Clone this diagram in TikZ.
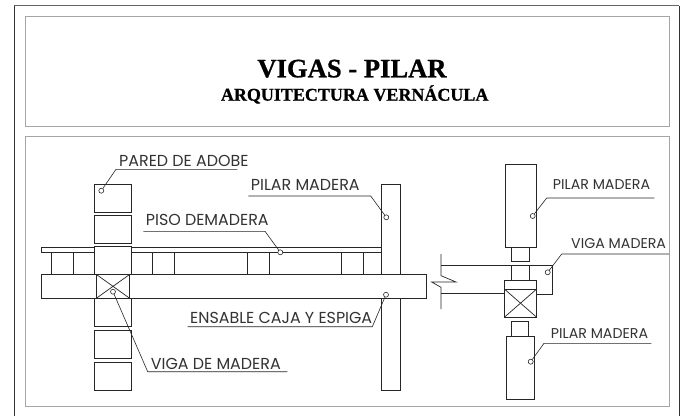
\documentclass[tikz,border=0pt]{standalone}
\usepackage{fontspec}
\setmainfont[BoldFeatures={FakeBold=0.8}]{Liberation Serif}
\newfontfamily\notefont{Poppins}
\usetikzlibrary{calc, positioning}
\tikzset{
    panel/.style={draw=black!35, line width=0.9pt},
    part/.style={draw=black!85, line width=0.7pt},
    leader/.style={draw=black!85, line width=0.6pt},
    dot/.style={circle, draw=black!85, fill=white, line width=0.6pt, minimum size=5pt, inner sep=0pt},
    note/.style={font=\notefont\fontsize{15.9}{15.9}\selectfont, text=black!80, inner sep=0pt, anchor=base west},
    smallnote/.style={note, font=\notefont\fontsize{14.2}{14.2}\selectfont},
}
\begin{document}
\begin{tikzpicture}[x=1pt, y=-1pt]
    \useasboundingbox (0,0) rectangle (683,416);
    \fill[white] (0,0) rectangle (683,416);
    % frames
    \draw[black!60, line width=0.9pt] (14,5.5) -- (679,5.5);
    \draw[black!80, line width=0.9pt] (14,5.5) -- (14,416);
    \draw[black!80, line width=0.9pt] (679,5.5) -- (679,416);
    \draw[panel] (25,16) rectangle (669,126);
    \draw[panel] (25,136) rectangle (669,406);
    % title
    \node[font=\bfseries\fontsize{26.6}{26.6}\selectfont, inner sep=0pt, anchor=base] (title) at (352,77.3) {VIGAS - PILAR};
    \node[font=\bfseries\fontsize{18}{18}\selectfont, inner sep=0pt, anchor=base] (subtitle) at (354.7,100.7) {ARQUITECTURA VERNÁCULA};
    % adobe wall
    \foreach \y/\h in {184.3/212.3, 215.7/243.7, 246.7/274.7, 298.3/326.3, 330/358, 362/390} {
        \draw[part] (94.3,\y) rectangle (131.3,\h);
    }
    % floor and joists
    \draw[part] (94.3,247) -- (41.3,247) -- (41.3,252.7) -- (94.3,252.7);
    \draw[part] (131.3,247) -- (381,247);
    \draw[part] (131.3,252.7) -- (381,252.7);
    \foreach \x in {51, 152.3, 247.3, 341.7} {
        \draw[part] (\x,252.7) rectangle (\x+22,274.7);
    }
    % beam
    \draw[part] (41.3,274.7) rectangle (426.7,298);
    \draw[part, fill=white] (96.7,274.7) rectangle (129.3,298);
    \draw[part] (96.7,274.7) -- (129.3,298);
    \draw[part] (96.7,298) -- (129.3,274.7);
    % pillar
    \draw[part] (381,274.7) -- (381,184.3) -- (400.3,184.3) -- (400.3,274.7);
    \draw[part] (381,298.3) -- (381,390) -- (400.3,390) -- (400.3,298.3);
    % section
    \draw[part] (505.7,164.3) rectangle (536,247);
    \draw[part] (511.7,247) rectangle (529,261.7);
    \draw[part] (511.7,265) rectangle (529,280);
    \draw[part] (504.3,280) rectangle (536.7,317.3);
    \draw[part] (504.3,289) rectangle (536.7,317.3);
    \draw[part] (504.3,289) -- (536.7,317.3);
    \draw[part] (504.3,317.3) -- (536.7,289);
    \draw[part] (511.7,321.3) rectangle (528.3,336);
    \draw[part] (506,336) rectangle (534,399);
    % cut beam
    \draw[part] (441,254) -- (441,275.7) -- (456,282) -- (431.7,282) -- (441,287.3) -- (441,309);
    \draw[part] (441,265) -- (552.3,265) -- (552.3,294) -- (536.7,294);
    \draw[part] (441,293.7) -- (504.3,293.7);
    % notes
    \node[note] (pared) at (119,166) {PARED DE ADOBE};
    \node[note] (piso) at (145.7,225.5) {PISO DEMADERA};
    \node[note] (pilarA) at (250.7,190) {PILAR MADERA};
    \node[note] (ensable) at (190,323.3) {ENSABLE CAJA Y ESPIGA};
    \node[note] (vigaA) at (150.7,369.3) {VIGA DE MADERA};
    \node[smallnote] (pilarB) at (552.7,189.3) {PILAR MADERA};
    \node[smallnote] (vigaB) at (571,248.3) {VIGA MADERA};
    \node[smallnote] (pilarC) at (550.7,338.3) {PILAR MADERA};
    % leaders
    \node[dot] (dotpared) at (101.3,190.7) {};
    \node[dot] (dotpiso) at (280.3,252.3) {};
    \node[dot] (dotpilarA) at (386.3,217.3) {};
    \node[dot] (dotensable) at (386,294.7) {};
    \node[dot] (dotvigaA) at (113,291.7) {};
    \node[dot] (dotpilarB) at (532.7,216) {};
    \node[dot] (dotvigaB) at (547.7,272.3) {};
    \node[dot] (dotpilarC) at (530.7,361.7) {};
    \coordinate (endpared) at (237.3,169.3);
    \coordinate (endpiso) at (143.3,231.3);
    \coordinate (endpilarA) at (248.3,196);
    \coordinate (endensable) at (187.7,326.7);
    \coordinate (endvigaA) at (287.3,371.7);
    \coordinate (endpilarB) at (654.3,198);
    \coordinate (endvigaB) at (669,254);
    \coordinate (endpilarC) at (651.3,343.3);
    \draw[leader] (dotpared) -- (116,169.3) -- (endpared);
    \draw[leader] (dotpiso) -- (265,231.3) -- (endpiso);
    \draw[leader] (dotpilarA) -- (370.7,196) -- (endpilarA);
    \draw[leader] (dotensable) -- (372.3,326.7) -- (endensable);
    \draw[leader] (dotvigaA) -- (147.7,371.7) -- (endvigaA);
    \draw[leader] (dotpilarB) -- (546.7,198) -- (endpilarB);
    \draw[leader] (dotvigaB) -- (561.7,254) -- (endvigaB);
    \draw[leader] (dotpilarC) -- (544,343.3) -- (endpilarC);
\end{tikzpicture}
\end{document}
